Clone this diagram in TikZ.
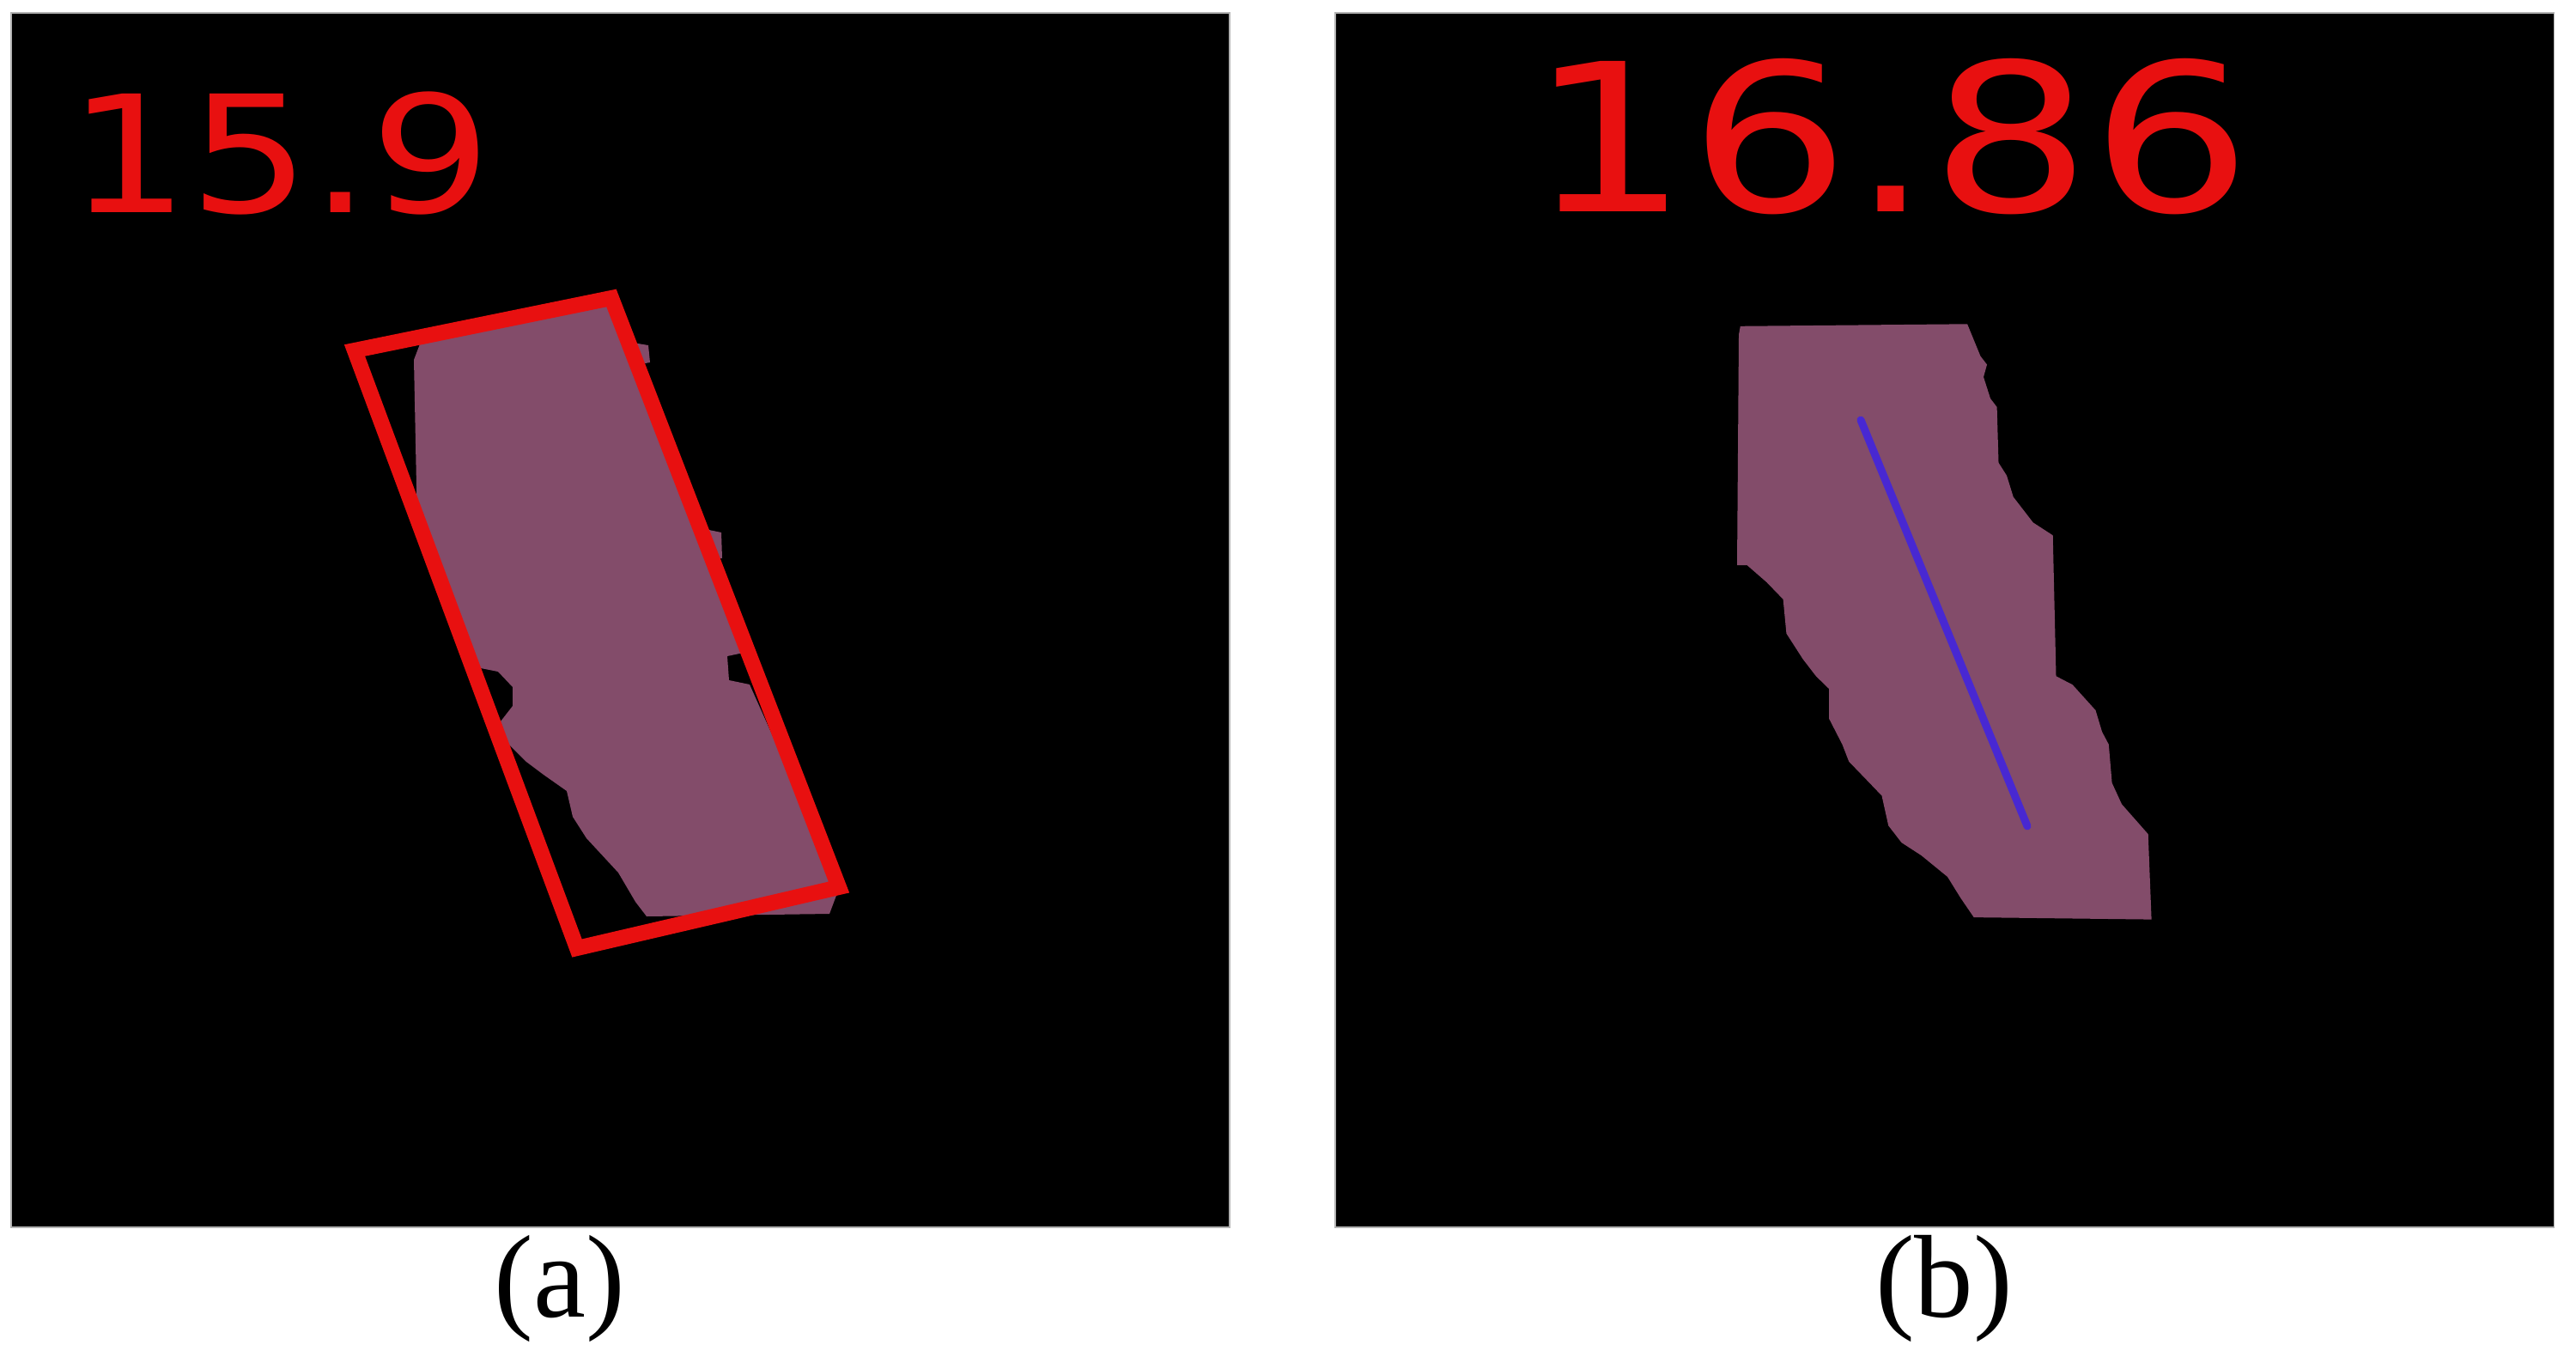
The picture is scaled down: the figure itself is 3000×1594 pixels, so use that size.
\documentclass[tikz,border=0pt]{standalone}
\usepackage{fontspec}
\setmainfont{Liberation Serif}
\newfontfamily\cvfont{DejaVu Sans}
\definecolor{cvred}{RGB}{232,16,16}
\definecolor{blobc}{RGB}{131,76,106}
\definecolor{axisc}{RGB}{72,40,210}
\begin{document}
\begin{tikzpicture}[x=0.01cm,y=-0.01cm,
  panel/.style={fill=black, draw=gray!60, line width=0.3pt},
  blob/.style={fill=blobc},
  cvlabel/.style={text=cvred, inner sep=0pt, anchor=base},
  caption/.style={inner sep=0pt, anchor=base, font=\fontsize{39pt}{44pt}\selectfont},
  minrect/.style={draw=cvred, line width=0.18cm, line join=miter},
  axisline/.style={draw=axisc, line width=0.09cm, line cap=round}]
\useasboundingbox (0,0) rectangle (3000,1594);
\fill[white] (0,0) rectangle (3000,1594);

% panels
\path[panel] (13,15) rectangle (1432,1429);
\path[panel] (1555,15) rectangle (2974,1429);

% left blob
\path[blob] (482,419) -- (490,398) -- (712,352)
  -- (731,398) -- (755,402) -- (757,422) -- (740,425)
  -- (816,615) -- (840,620) -- (841,650) -- (828,650)
  -- (866,760) -- (847,764) -- (849,792) -- (873,797)
  -- (978,1032) -- (966,1064)
  -- (753,1067) -- (740,1050) -- (720,1016) -- (683,976) -- (667,951)
  -- (660,921) -- (633,902) -- (613,887) -- (592,866) -- (583,840)
  -- (597,822) -- (597,800) -- (580,782) -- (560,778) -- (548,770)
  -- (520,700) -- (500,648) -- (486,615) -- cycle;

% right blob
\path[blob] (2026.8,379.8) -- (2291.1,377.3) -- (2306.4,414.6) -- (2314,424.5) -- (2310,439)
  -- (2318,464) -- (2325.6,474) -- (2327.5,538.8) -- (2337,553.7) -- (2344.7,578.6)
  -- (2367.7,608.4) -- (2390.7,623.3) -- (2394.5,787.3) -- (2413.6,797.2) -- (2440.5,827)
  -- (2448,852) -- (2455.8,866.8) -- (2459.6,911.6) -- (2471,936.4) -- (2501.7,971.2)
  -- (2505.6,1070.6) -- (2298.7,1068.1) -- (2283.4,1045.7) -- (2268,1020.9) -- (2237.5,996)
  -- (2214.5,981.1) -- (2199.2,961.3) -- (2191.5,926.5) -- (2172.4,906.6) -- (2153.2,886.7)
  -- (2145.5,866.8) -- (2130.2,837) -- (2130.2,802.2) -- (2114.9,787.3) -- (2099.6,767.4)
  -- (2080.4,737.6) -- (2076.6,697.8) -- (2057.5,678) -- (2034.5,658) -- (2023,658)
  -- (2025,389.7) -- cycle;

% minimum-area rectangle (a)
\coordinate (r1) at (413,408);
\coordinate (r2) at (712,347);
\coordinate (r3) at (977,1033);
\coordinate (r4) at (672,1104);
\draw[minrect] (r1) -- (r2) -- (r3) -- (r4) -- cycle;

% axis line (b)
\coordinate (axA) at (2167,489);
\coordinate (axB) at (2361,962);
\draw[axisline] (axA) -- (axB);

% value labels
\node[cvlabel, font=\cvfont\fontsize{53.9pt}{60pt}\selectfont, xscale=1.17] (va) at (326,248) {15.9};
\node[cvlabel, font=\cvfont\fontsize{68.3pt}{76pt}\selectfont, xscale=1.225] (vb) at (2202,247) {16.86};

% captions
\node[caption] (capa) at (652,1533) {(a)};
\node[caption] (capb) at (2264,1533) {(b)};
\end{tikzpicture}
\end{document}
